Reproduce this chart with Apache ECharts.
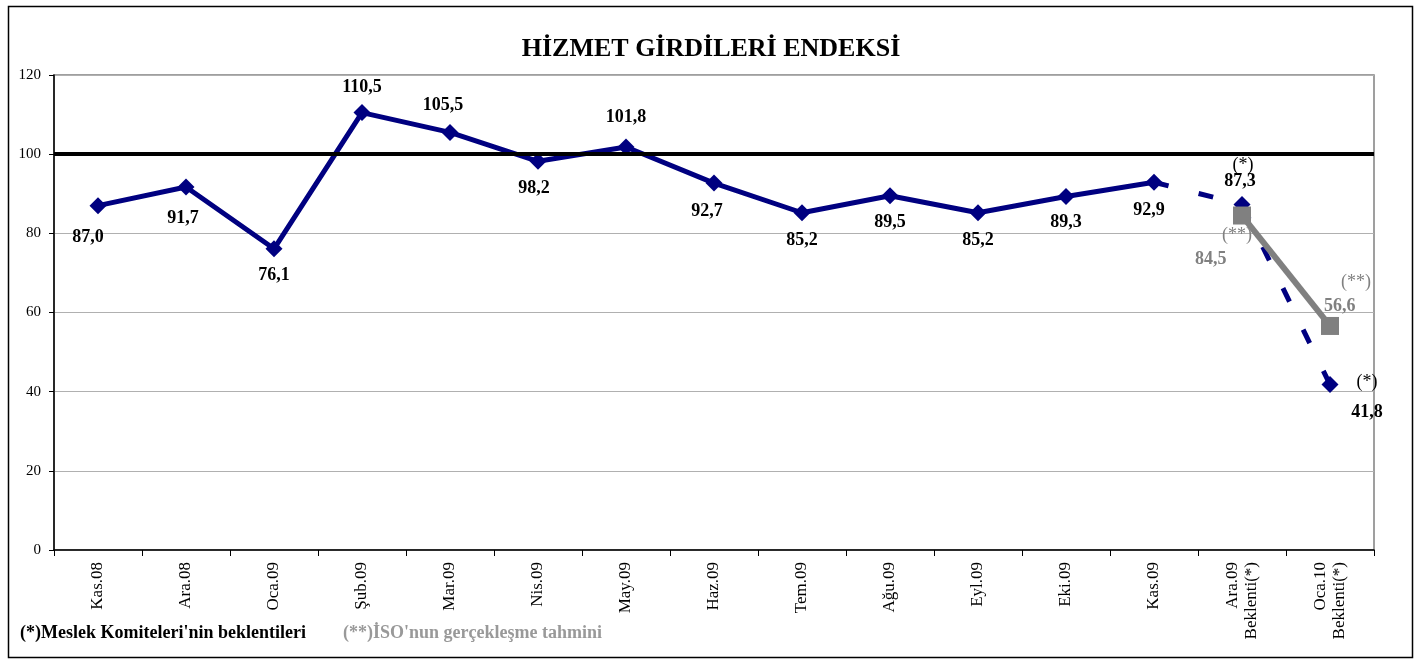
<!DOCTYPE html>
<html><head><meta charset="utf-8">
<script src="https://cdn.jsdelivr.net/npm/echarts@6/dist/echarts.min.js"></script>
<style>html,body{margin:0;padding:0;background:#fff}#c{width:1422px;height:662px}</style>
</head><body><div id="c"></div>
<script>
const categories = ['Kas.08','Ara.08','Oca.09','Şub.09','Mar.09','Nis.09','May.09','Haz.09','Tem.09','Ağu.09','Eyl.09','Eki.09','Kas.09','Ara.09\nBeklenti(*)','Oca.10\nBeklenti(*)'];
const actual = [87.0, 91.7, 76.1, 110.5, 105.5, 98.2, 101.8, 92.7, 85.2, 89.5, 85.2, 89.3, 92.9, null, null];
const expectation = [null, null, null, null, null, null, null, null, null, null, null, null, 92.9, 87.3, 41.8];
const isoEstimate = [null, null, null, null, null, null, null, null, null, null, null, null, null, 84.5, 56.6];
const referenceLevel = 100;
const yTicks = {min: 0, max: 120, interval: 20};

// label offsets (styling, kept separate from data)
const actualOffsets = [[-10,32],[-3,31],[0,27],[0,-25],[-7,-27],[-4,27],[0,-30],[-7,28],[0,28],[0,27],[0,28],[0,26],[-5,28]];
const fmt = v => v.toFixed(1).replace('.', ',');
const SERIF = '"Liberation Serif","Times New Roman",serif';
const NAVY = '#000080', GRAY = '#808080';
const LBL = 18;

const actualData = actual.map((v, i) => v == null ? null : {
  value: v,
  label: {show: true, position: 'inside', offset: actualOffsets[i], formatter: fmt(v)}
});
const expData = expectation.map((v, i) => {
  if (v == null) return null;
  if (i === 12) return {value: v, symbol: 'none', label: {show: false}};
  if (i === 13) return {value: v, label: {show: true, position: 'inside', offset: [-2, -31],
    formatter: '{a|(*)}\n{b|' + fmt(v) + '}',
    rich: {a: {lineHeight: 16, padding: [0,0,0,6]}, b: {lineHeight: 16}}}};
  return {value: v, label: {show: true, position: 'inside', offset: [37, 13],
    formatter: '{a|(*)}\n{b|' + fmt(v) + '}'}};
});
const isoData = isoEstimate.map((v, i) => {
  if (v == null) return null;
  if (i === 13) return {value: v, label: {show: true, position: 'inside', offset: [-47, 32], align: 'left',
    formatter: '{a|(**)}\n{b|' + fmt(v) + '}', rich: {a: {padding: [0,0,0,27]}}}};
  return {value: v, label: {show: true, position: 'inside', offset: [-6, -32], align: 'left',
    formatter: '{a|(**)}\n{b|' + fmt(v) + '}', rich: {a: {padding: [0,0,0,17]}}}};
});

const chart = echarts.init(document.getElementById('c'), null, {renderer: 'canvas'});
chart.setOption({
  animation: false,
  backgroundColor: '#fff',
  title: {text: 'HİZMET GİRDİLERİ ENDEKSİ', left: 'center', top: 31,
    textStyle: {fontFamily: SERIF, fontWeight: 'bold', fontSize: 26, color: '#000'}},
  grid: {left: 54, right: 48, top: 75, bottom: 112, show: true, borderColor: '#808080', borderWidth: 1.5, backgroundColor: 'transparent'},
  xAxis: {type: 'category', data: categories, boundaryGap: true,
    axisLine: {lineStyle: {color: '#000', width: 1.5}},
    axisTick: {show: true, length: 6, lineStyle: {color: '#000'}},
    axisLabel: {rotate: 90, margin: 12, fontFamily: SERIF, fontSize: 17, color: '#000', lineHeight: 19, interval: 0}},
  yAxis: {type: 'value', min: yTicks.min, max: yTicks.max, interval: yTicks.interval,
    axisLine: {show: true, lineStyle: {color: '#000', width: 1.5}},
    axisTick: {show: true, length: 5, lineStyle: {color: '#000'}},
    axisLabel: {margin: 13, fontFamily: SERIF, fontSize: 15, color: '#000'},
    splitLine: {lineStyle: {color: '#b0b0b0', width: 1}}},
  series: [
    {name: 'ref', type: 'line', data: [], silent: true,
      markLine: {silent: true, symbol: 'none', label: {show: false},
        lineStyle: {color: '#000', width: 4, type: 'solid'}, data: [{yAxis: referenceLevel}]}, z: 1},
    {name: 'Endeks', type: 'line', data: actualData, connectNulls: false,
      symbol: 'diamond', symbolSize: 17, showAllSymbol: true,
      lineStyle: {color: NAVY, width: 5}, itemStyle: {color: NAVY},
      label: {fontFamily: SERIF, fontWeight: 'bold', fontSize: LBL, color: '#000'}, z: 3},
    {name: 'Beklenti', type: 'line', data: expData,
      symbol: 'diamond', symbolSize: 17,
      lineStyle: {color: NAVY, width: 5, type: [15, 31]}, itemStyle: {color: NAVY},
      label: {fontFamily: SERIF, color: '#000',
        rich: {a: {fontFamily: SERIF, fontSize: LBL, color: '#000', lineHeight: 30},
               b: {fontFamily: SERIF, fontWeight: 'bold', fontSize: LBL, color: '#000', lineHeight: 30}}}, z: 3},
    {name: 'ISO', type: 'line', data: isoData,
      symbol: 'rect', symbolSize: 18,
      lineStyle: {color: GRAY, width: 6}, itemStyle: {color: GRAY},
      label: {fontFamily: SERIF, color: GRAY,
        rich: {a: {fontFamily: SERIF, fontSize: LBL, color: GRAY, lineHeight: 24},
               b: {fontFamily: SERIF, fontWeight: 'bold', fontSize: LBL, color: GRAY, lineHeight: 24}}}, z: 4}
  ],
  graphic: [
    {type: 'rect', left: 6, top: 4, shape: {width: 1404, height: 651}, style: {fill: 'none', stroke: '#000', lineWidth: 1.5}, silent: true},
    {type: 'text', left: 20, top: 624, style: {text: "(*)Meslek Komiteleri'nin beklentileri", font: 'bold 18px ' + SERIF, fill: '#000'}},
    {type: 'text', left: 343, top: 624, style: {text: "(**)İSO'nun gerçekleşme tahmini", font: 'bold 18px ' + SERIF, fill: '#999'}}
  ]
});
</script></body></html>
